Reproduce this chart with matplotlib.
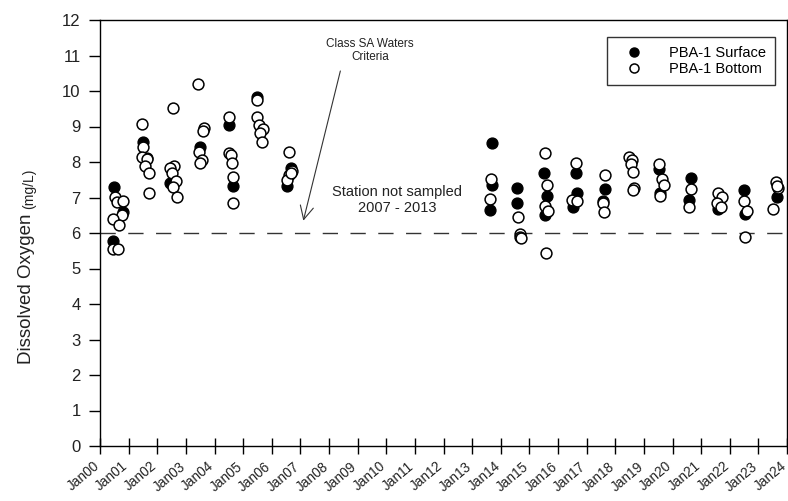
import matplotlib
matplotlib.use("Agg")
import matplotlib.pyplot as plt
from matplotlib.transforms import ScaledTranslation

plt.rcParams['font.family'] = ['Liberation Sans', 'DejaVu Sans']

# ---- data (decimal year, dissolved oxygen mg/L) ----
surface_x = [2000.49, 2000.81, 2000.46,
             2001.51, 2001.64,
             2002.45,
             2003.49,
             2004.52, 2004.66,
             2005.47,
             2006.66, 2006.54,
             2013.68, 2013.68, 2013.62,
             2014.56, 2014.58,
             2015.52, 2015.63, 2015.55,
             2016.62, 2016.65, 2016.51,
             2017.64, 2017.58,
             2019.54, 2019.56,
             2020.65, 2020.59,
             2021.60,
             2022.51, 2022.53,
             2023.64]
surface_y = [7.30, 6.60, 5.77,
             8.57, 8.10,
             7.40,
             8.41,
             9.04, 7.32,
             9.84,
             7.82, 7.32,
             8.54, 7.35, 6.65,
             7.26, 6.85,
             7.68, 7.04, 6.51,
             7.68, 7.14, 6.72,
             7.23, 6.90,
             7.79, 7.14,
             7.54, 6.93,
             6.69,
             7.21, 6.54,
             7.02]

bottom_x = [2000.52, 2000.58, 2000.81, 2000.76, 2000.44, 2000.67, 2000.46, 2000.64,
            2001.45, 2001.51, 2001.45, 2001.65, 2001.57, 2001.71, 2001.72,
            2002.54, 2002.59, 2002.45, 2002.50, 2002.65, 2002.56, 2002.70,
            2003.43, 2003.63, 2003.61, 2003.47, 2003.55, 2003.49,
            2004.52, 2004.52, 2004.56, 2004.60, 2004.63, 2004.65,
            2005.47, 2005.49, 2005.56, 2005.68, 2005.59, 2005.65,
            2006.61, 2006.71, 2006.61, 2006.54, 2006.66,
            2013.66, 2013.62,
            2014.61, 2014.67, 2014.67, 2014.71,
            2015.55, 2015.63, 2015.55, 2015.66, 2015.58,
            2016.62, 2016.48, 2016.65,
            2017.64, 2017.58, 2017.61,
            2018.49, 2018.57, 2018.54, 2018.63, 2018.66, 2018.63,
            2019.54, 2019.65, 2019.70, 2019.56,
            2020.65, 2020.59,
            2021.60, 2021.72, 2021.54, 2021.68,
            2022.51, 2022.59, 2022.53,
            2023.61, 2023.70, 2023.66, 2023.52]
bottom_y = [7.02, 6.88, 6.91, 6.51, 6.39, 6.23, 5.54, 5.54,
            9.07, 8.41, 8.15, 8.08, 7.89, 7.70, 7.12,
            9.51, 7.89, 7.82, 7.68, 7.47, 7.30, 7.02,
            10.20, 8.95, 8.86, 8.29, 8.06, 7.96,
            9.26, 8.26, 8.20, 7.98, 7.59, 6.85,
            9.76, 9.28, 9.04, 8.92, 8.81, 8.57,
            8.29, 7.75, 7.63, 7.49, 7.70,
            7.51, 6.95,
            6.44, 5.97, 5.88, 5.85,
            8.24, 7.35, 6.76, 6.63, 5.43,
            7.98, 6.93, 6.91,
            7.63, 6.84, 6.60,
            8.13, 8.06, 7.94, 7.73, 7.26, 7.21,
            7.94, 7.51, 7.35, 7.04,
            7.23, 6.74,
            7.14, 7.02, 6.85, 6.72,
            6.91, 6.63, 5.90,
            7.45, 7.26, 7.33, 6.67]

tick_years = list(range(2000, 2025))
tick_labels = ["Jan%02d" % (y % 100) for y in tick_years]
criteria = 6.0

# ---- figure ----
fig = plt.figure(figsize=(7.88, 5.01), dpi=100)
ax = fig.add_axes([100/788, 55/501, 687/788, 426/501])

ax.plot(surface_x, surface_y, linestyle='none', marker='o', markersize=7.8,
        markerfacecolor='black', markeredgecolor='black', markeredgewidth=1.0,
        label='PBA-1 Surface', zorder=3)
ax.plot(bottom_x, bottom_y, linestyle='none', marker='o', markersize=7.8,
        markerfacecolor='white', markeredgecolor='black', markeredgewidth=1.1,
        label='PBA-1 Bottom', zorder=4)

ax.axhline(criteria, color='#333333', linewidth=1.0, dashes=(11, 9), zorder=2)

ax.set_xlim(2000, 2024)
ax.set_ylim(0, 12)
ax.set_yticks(range(0, 13))
ax.set_xticks(tick_years)
ax.set_xticklabels(tick_labels, rotation=40, ha='right', rotation_mode='anchor',
                   fontsize=9.8)
ax.tick_params(axis='y', direction='out', length=8, width=1, labelsize=12, pad=6,
               labelcolor='#222222')
ax.tick_params(axis='x', direction='inout', length=11, width=1, pad=4,
               labelcolor='#222222')
shift = ScaledTranslation(-7/100, 0, fig.dpi_scale_trans)
for lbl in ax.get_xticklabels():
    lbl.set_transform(lbl.get_transform() + shift)
for s in ax.spines.values():
    s.set_linewidth(1.0)

# annotations
ax.annotate('', xy=(2007.08, 6.27), xytext=(2008.42, 10.64),
            arrowprops=dict(arrowstyle='->', color='#333333', lw=0.8,
                            mutation_scale=24))
ax.text(2009.43, 11.15, 'Class SA Waters\nCriteria', ha='center', va='center',
        fontsize=8.5, color='#222222', linespacing=1.1)
ax.text(2010.37, 6.93, 'Station not sampled\n2007 - 2013', ha='center', va='center',
        fontsize=10.5, color='#222222', linespacing=1.1)

# y label with mixed sizes
fig.text(27/788, (501-289)/501, 'Dissolved Oxygen', rotation=90, ha='center',
         va='center', fontsize=13.5, color='#222222')
fig.text(29/788, (501-189)/501, '(mg/L)', rotation=90, ha='center',
         va='center', fontsize=10, color='#222222')

leg = ax.legend(loc='upper right', bbox_to_anchor=(775/788, 1 - 37/501),
                bbox_transform=fig.transFigure, frameon=True, fancybox=False,
                fontsize=10.5, borderpad=0.6, handletextpad=1.1,
                labelspacing=0.15, handlelength=2.6, borderaxespad=0)
leg.get_frame().set_edgecolor('black')
leg.get_frame().set_linewidth(1.0)
for h in leg.legend_handles:
    h.set_markersize(6.5)

fig.savefig('out.png', dpi=100)
